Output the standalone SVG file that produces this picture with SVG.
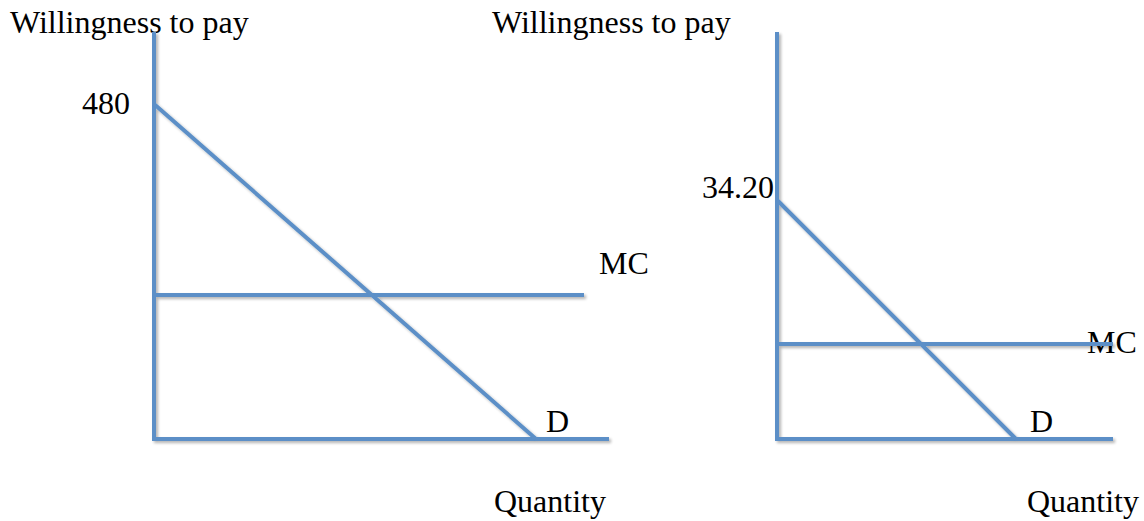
<svg xmlns="http://www.w3.org/2000/svg" width="1144" height="521" viewBox="0 0 1144 521">
<defs>
<filter id="sh" x="-5%" y="-5%" width="110%" height="110%">
<feGaussianBlur in="SourceAlpha" stdDeviation="1.5"/>
<feOffset dx="1.5" dy="2" result="b"/>
<feComponentTransfer><feFuncA type="linear" slope="0.3"/></feComponentTransfer>
<feMerge><feMergeNode/><feMergeNode in="SourceGraphic"/></feMerge>
</filter>
</defs>
<style>
.ln{stroke:#5B8FC7;stroke-width:4;fill:none;stroke-linecap:butt}
.t{font-family:"Liberation Serif","Times New Roman",serif;font-size:32px;fill:#000}
</style>
<rect width="1144" height="521" fill="#fff"/>
<g id="labels-left">
<text class="t" x="10" y="33">Willingness to pay</text>
<text class="t" x="82" y="114">480</text>
<text class="t" x="599" y="274">MC</text>
<text class="t" x="546" y="432">D</text>
<text class="t" x="494" y="512">Quantity</text>
</g>
<g id="labels-right">
<text class="t" x="492" y="33">Willingness to pay</text>
<text class="t" x="702" y="198">34.20</text>
<text class="t" x="1087" y="353">MC</text>
<text class="t" x="1030" y="432">D</text>
<text class="t" x="1027" y="512">Quantity</text>
</g>
<g id="connectors" filter="url(#sh)">
<line class="ln" x1="154" y1="32" x2="154" y2="439"/>
<line class="ln" x1="152" y1="439" x2="609" y2="439"/>
<line class="ln" x1="154" y1="295" x2="584" y2="295"/>
<line class="ln" x1="154" y1="104" x2="536" y2="439"/>
<line class="ln" x1="777" y1="32" x2="777" y2="439"/>
<line class="ln" x1="775" y1="439" x2="1113" y2="439"/>
<line class="ln" x1="777" y1="344" x2="1113" y2="344"/>
<line class="ln" x1="777" y1="200" x2="1016" y2="439"/>
</g>
</svg>
